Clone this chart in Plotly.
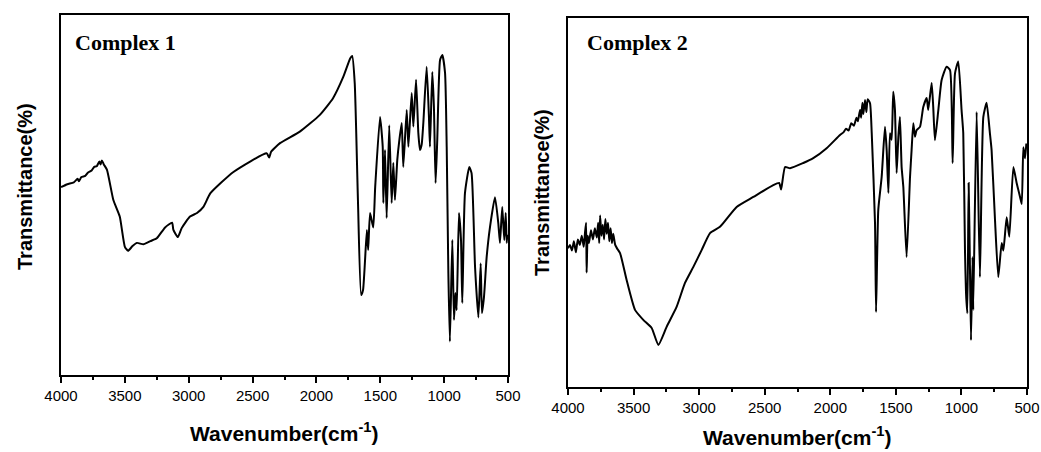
import plotly.graph_objects as go

# ---------------- data (y in % of plot height) ----------------
wn1 = [4000, 3950, 3900, 3870, 3860, 3840, 3810, 3790, 3760, 3740, 3720, 3700, 3690, 3680,
       3665, 3640, 3590, 3540, 3500, 3475, 3440, 3405, 3355, 3300, 3250, 3185, 3130, 3120,
       3085, 3055, 2990, 2935, 2885, 2830, 2650, 2390, 2370, 2355, 2285, 2130, 1975, 1870,
       1790, 1735, 1720, 1700, 1675, 1650, 1635, 1605, 1595, 1580, 1555, 1540, 1502, 1481,
       1476, 1463, 1450, 1430, 1411, 1398, 1385, 1367, 1351, 1332, 1320, 1293, 1280, 1254,
       1241, 1220, 1202, 1189, 1176, 1163, 1137, 1119, 1111, 1093, 1080, 1067, 1054, 1032,
       1014, 993, 980, 967, 955, 936, 923, 912, 902, 884, 868, 858, 837, 803, 785, 758,
       732, 714, 704, 688, 667, 641, 602, 576, 563, 545, 529, 518, 510, 505]
t1 = [52.2, 53.0, 53.5, 54.5, 53.8, 55.0, 55.3, 56.2, 56.8, 57.8, 58.0, 59.3, 58.5, 59.6,
      58.5, 57.0, 48.6, 44.0, 35.6, 34.5, 35.8, 36.7, 36.3, 37.2, 38.0, 41.0, 42.3, 40.3,
      38.3, 40.8, 44.0, 45.0, 46.7, 50.5, 56.4, 61.6, 60.4, 62.0, 64.4, 67.6, 72.2, 76.9,
      82.8, 88.0, 88.6, 81.0, 48.6, 22.2, 23.6, 40.3, 34.7, 45.0, 41.0, 52.2, 71.7, 63.4,
      47.8, 62.5, 43.6, 69.4, 47.8, 58.9, 48.6, 59.7, 65.2, 70.0, 57.8, 73.6, 63.4, 78.3,
      69.0, 82.0, 67.2, 62.5, 64.0, 70.0, 85.6, 71.7, 63.4, 84.2, 74.4, 53.3, 65.2, 87.5,
      88.9, 83.9, 63.4, 28.3, 9.3, 37.5, 15.3, 22.8, 18.0, 45.0, 37.5, 20.0, 50.5, 57.8,
      56.0, 30.0, 16.0, 31.0, 17.2, 21.7, 32.8, 41.1, 49.4, 42.2, 36.7, 46.7, 37.5, 45.0,
      36.7, 39.0]

wn2 = [4000, 3985, 3970, 3955, 3940, 3925, 3910, 3895, 3880, 3870, 3862, 3858, 3850, 3840,
       3825, 3810, 3795, 3780, 3770, 3762, 3755, 3745, 3735, 3725, 3715, 3705, 3695, 3685,
       3675, 3665, 3655, 3640, 3625, 3603, 3553, 3489, 3426, 3362, 3311, 3248, 3172, 3108,
       3045, 2981, 2917, 2841, 2714, 2587, 2435, 2390, 2375, 2345, 2307, 2206, 2130, 2028,
       1926, 1900, 1880, 1860, 1840, 1820, 1800, 1790, 1773, 1765, 1755, 1748, 1735, 1725,
       1715, 1697, 1684, 1659, 1651, 1634, 1608, 1583, 1570, 1557, 1545, 1532, 1520, 1507,
       1494, 1481, 1469, 1456, 1443, 1418, 1392, 1380, 1367, 1354, 1342, 1316, 1291, 1265,
       1253, 1227, 1215, 1202, 1176, 1151, 1113, 1087, 1067, 1049, 1024, 999, 986, 973,
       965, 955, 945, 935, 927, 915, 910, 884, 859, 833, 808, 783, 770, 745, 719, 693,
       680, 655, 635, 604, 579, 553, 540, 528, 515, 505]
t2 = [37.6, 38.5, 37.0, 39.5, 36.5, 40.0, 38.5, 41.0, 38.0, 42.0, 44.5, 31.0, 41.0, 39.0,
      42.5, 40.0, 43.0, 40.5, 44.5, 39.0, 46.5, 41.0, 44.0, 40.0, 45.5, 41.5, 44.5, 39.5,
      43.0, 39.0, 41.5, 38.5, 37.5, 36.3, 29.0, 20.9, 18.2, 16.0, 11.4, 16.3, 21.7, 28.2,
      32.5, 37.1, 41.7, 43.4, 48.8, 51.5, 54.7, 55.3, 53.5, 59.6, 59.3, 60.7, 62.0, 64.7,
      68.3, 69.0, 70.0, 69.5, 71.5, 70.8, 73.0, 72.0, 75.1, 73.0, 77.0, 74.0, 77.8, 74.5,
      78.0, 76.9, 68.8, 44.4, 20.3, 48.0, 57.0, 70.5, 64.2, 52.6, 68.8, 67.0, 80.0, 75.1,
      58.0, 67.8, 73.2, 59.6, 54.2, 35.2, 56.9, 64.2, 71.5, 67.8, 69.6, 70.5, 75.9, 78.3,
      75.1, 82.4, 75.9, 66.9, 75.1, 83.2, 86.8, 85.9, 60.7, 85.0, 88.2, 75.1, 68.8, 37.1,
      25.5, 20.0, 55.3, 32.5, 12.7, 35.2, 20.9, 74.5, 29.8, 73.2, 77.0, 68.8, 64.2, 46.0,
      29.8, 39.0, 37.0, 46.0, 40.7, 59.6, 55.3, 51.5, 49.6, 65.0, 62.0, 66.0]

panel_labels = ["Complex 1", "Complex 2"]
x_title = "Wavenumber(cm<sup>-1</sup>)"
y_title = "Transmittance(%)"
x_ticks = [4000, 3500, 3000, 2500, 2000, 1500, 1000, 500]
x_minor = [3750, 3250, 2750, 2250, 1750, 1250, 750]

# ---------------- figure ----------------
W, H = 1041, 452
fig = go.Figure()
fig.add_trace(go.Scatter(x=wn1, y=t1, mode="lines",
                         line=dict(color="black", width=2, shape="spline", smoothing=0.5),
                         xaxis="x", yaxis="y", showlegend=False))
fig.add_trace(go.Scatter(x=wn2, y=t2, mode="lines",
                         line=dict(color="black", width=2, shape="spline", smoothing=0.5),
                         xaxis="x2", yaxis="y2", showlegend=False))

def xax(l, r):
    return dict(domain=[l / W, r / W], range=[4000, 500], showline=True, mirror=True,
                linecolor="black", linewidth=2, showgrid=False, zeroline=False,
                ticks="outside", ticklen=6, tickwidth=1.5, tickcolor="black",
                tickvals=x_ticks, ticktext=[str(v) for v in x_ticks],
                tickfont=dict(family="Liberation Sans, Arial", size=15, color="black"),
                minor=dict(ticks="outside", ticklen=3, tickwidth=1.5, tickcolor="black",
                           tickvals=x_minor),
                automargin=False, fixedrange=True)

def yax(b, t, anchor):
    return dict(domain=[(H - b) / H, (H - t) / H], range=[0, 100], showline=True, mirror=True,
                linecolor="black", linewidth=2, showgrid=False, zeroline=False,
                showticklabels=False, ticks="", anchor=anchor, automargin=False,
                fixedrange=True)

fig.update_layout(
    width=W, height=H, autosize=False,
    margin=dict(l=0, r=0, t=0, b=0, pad=0, autoexpand=False),
    paper_bgcolor="white", plot_bgcolor="white", showlegend=False,
    xaxis=dict(xax(61, 508), anchor="y"),
    yaxis=yax(375, 15, "x"),
    xaxis2=dict(xax(568, 1027), anchor="y2"),
    yaxis2=yax(387, 18, "x2"),
)

ann = []
ann.append(dict(x=73 / W, y=1 - 43 / H, xref="paper", yref="paper", xanchor="left", yanchor="middle",
                text="<b>" + panel_labels[0] + "</b>", showarrow=False,
                font=dict(family="Liberation Serif, Times New Roman", size=22, color="black")))
ann.append(dict(x=585 / W, y=1 - 42 / H, xref="paper", yref="paper", xanchor="left", yanchor="middle",
                text="<b>" + panel_labels[1] + "</b>", showarrow=False,
                font=dict(family="Liberation Serif, Times New Roman", size=22, color="black")))
ann.append(dict(x=284 / W, y=1 - 432 / H, xref="paper", yref="paper", xanchor="center", yanchor="middle",
                text="<b>" + x_title + "</b>", showarrow=False,
                font=dict(family="Liberation Sans, Arial", size=21, color="black")))
ann.append(dict(x=797 / W, y=1 - 436 / H, xref="paper", yref="paper", xanchor="center", yanchor="middle",
                text="<b>" + x_title + "</b>", showarrow=False,
                font=dict(family="Liberation Sans, Arial", size=21, color="black")))
ann.append(dict(x=25 / W, y=1 - 187 / H, xref="paper", yref="paper", xanchor="center", yanchor="middle",
                text="<b>" + y_title + "</b>", showarrow=False, textangle=-90,
                font=dict(family="Liberation Sans, Arial", size=20, color="black")))
ann.append(dict(x=542 / W, y=1 - 193 / H, xref="paper", yref="paper", xanchor="center", yanchor="middle",
                text="<b>" + y_title + "</b>", showarrow=False, textangle=-90,
                font=dict(family="Liberation Sans, Arial", size=20, color="black")))
fig.update_layout(annotations=ann)

fig.write_html("out.html")
